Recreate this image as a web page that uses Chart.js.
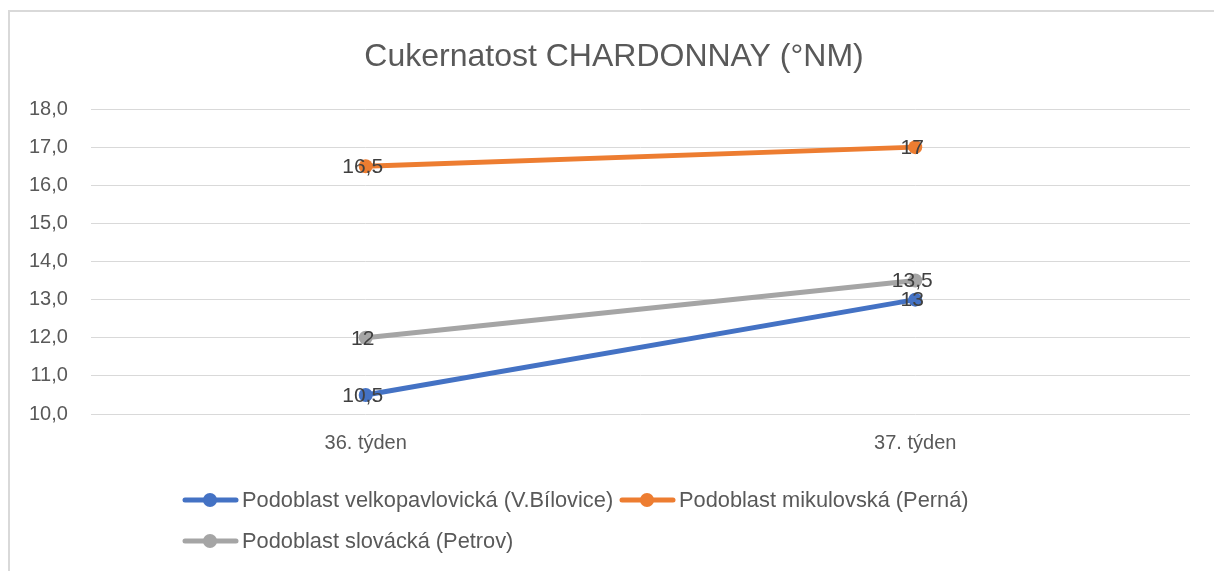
<!DOCTYPE html>
<html>
<head>
<meta charset="utf-8">
<script src="https://cdn.jsdelivr.net/npm/chart.js@4"></script>
<style>
	html, body { margin: 0; padding: 0; background: #fff; }
	#wrap { position: relative; width: 1214px; height: 571px; overflow: hidden; }
	#frame {
		position: absolute; left: 8px; top: 10px; width: 1300px; height: 700px;
		border-top: 2px solid #d9d9d9; border-left: 2px solid #d9d9d9;
	}
	#chart { position: absolute; left: 0; top: 0; }
</style>
</head>
<body>
<div id="wrap">
	<div id="frame"></div>
	<canvas id="chart" width="1214" height="571"></canvas>
</div>
<script>
	/*global Chart */
	var titleText = 'Cukernatost CHARDONNAY (°NM)';
	var weeks = ['36. týden', '37. týden'];
	var seriesNames = [
		'Podoblast velkopavlovická (V.Bílovice)',
		'Podoblast mikulovská (Perná)',
		'Podoblast slovácká (Petrov)'
	];
	var velkopavlovicka = [10.5, 13];
	var mikulovska = [16.5, 17];
	var slovacka = [12, 13.5];
	var yTicks = [10, 11, 12, 13, 14, 15, 16, 17, 18];

	var colors = ['#4472c4', '#ed7d31', '#a5a5a5'];
	var textColor = '#595959';
	var fontFamily = '"Liberation Sans", Arial, sans-serif';

	function czNum(v, digits) {
		var s = digits === undefined ? String(v) : v.toFixed(digits);
		return s.replace('.', ',');
	}

	function makeSet(i, values) {
		return {
			label: seriesNames[i],
			data: values,
			borderColor: colors[i],
			backgroundColor: colors[i],
			borderWidth: 5,
			pointRadius: 7,
			pointHoverRadius: 7,
			pointBorderWidth: 0,
			tension: 0
		};
	}

	// Value labels sitting right on top of each point
	var pointLabels = {
		id: 'pointLabels',
		afterDatasetsDraw: function (chart) {
			var ctx = chart.ctx;
			ctx.save();
			ctx.font = '21px ' + fontFamily;
			ctx.fillStyle = '#404040';
			ctx.textAlign = 'center';
			ctx.textBaseline = 'middle';
			chart.data.datasets.forEach(function (ds, d) {
				chart.getDatasetMeta(d).data.forEach(function (pt, i) {
					ctx.fillText(czNum(ds.data[i]), pt.x - 3, pt.y + 1);
				});
			});
			ctx.restore();
		}
	};

	// Title centred on the whole frame, not on the padded layout box
	var frameTitle = {
		id: 'frameTitle',
		afterDraw: function (chart) {
			var ctx = chart.ctx;
			ctx.save();
			ctx.font = '32px ' + fontFamily;
			ctx.fillStyle = textColor;
			ctx.textAlign = 'center';
			ctx.textBaseline = 'middle';
			ctx.fillText(titleText, 614, 57);
			ctx.restore();
		}
	};

	// Legend laid out like the original: two items, then one item on a new row
	var bottomLegend = {
		id: 'bottomLegend',
		afterDraw: function (chart) {
			var ctx = chart.ctx;
			var items = [
				{ idx: 0, x: 183, y: 500 },
				{ idx: 1, x: 620, y: 500 },
				{ idx: 2, x: 183, y: 541 }
			];
			ctx.save();
			ctx.font = '21.8px ' + fontFamily;
			ctx.textBaseline = 'middle';
			ctx.textAlign = 'left';
			items.forEach(function (it) {
				var ds = chart.data.datasets[it.idx];
				ctx.strokeStyle = ds.borderColor;
				ctx.lineWidth = 5;
				ctx.lineCap = 'round';
				ctx.beginPath();
				ctx.moveTo(it.x + 2, it.y);
				ctx.lineTo(it.x + 53, it.y);
				ctx.stroke();
				ctx.fillStyle = ds.borderColor;
				ctx.beginPath();
				ctx.arc(it.x + 27, it.y, 7, 0, Math.PI * 2);
				ctx.fill();
				ctx.fillStyle = textColor;
				ctx.fillText(ds.label, it.x + 59, it.y + 1);
			});
			ctx.restore();
		}
	};

	new Chart(document.getElementById('chart'), {
		type: 'line',
		data: {
			labels: weeks,
			datasets: [
				makeSet(0, velkopavlovicka),
				makeSet(1, mikulovska),
				makeSet(2, slovacka)
			]
		},
		options: {
			responsive: false,
			animation: false,
			layout: {
				padding: { left: 6, right: 24, top: 109, bottom: 99 }
			},
			plugins: {
				legend: { display: false },
				tooltip: { enabled: false },
				title: { display: false }
			},
			scales: {
				x: {
					offset: true,
					grid: { display: false, drawTicks: false },
					border: { display: false },
					ticks: {
						color: textColor,
						font: { family: fontFamily, size: 20 },
						padding: 17
					}
				},
				y: {
					min: yTicks[0],
					max: yTicks[yTicks.length - 1],
					afterBuildTicks: function (axis) {
						axis.ticks = yTicks.map(function (v) { return { value: v }; });
					},
					grid: { color: '#d9d9d9', lineWidth: 1, drawTicks: false },
					border: { display: false },
					ticks: {
						color: textColor,
						font: { family: fontFamily, size: 20 },
						padding: 23,
						callback: function (v) { return czNum(v, 1); }
					}
				}
			}
		},
		plugins: [pointLabels, frameTitle, bottomLegend]
	});
</script>
</body>
</html>
